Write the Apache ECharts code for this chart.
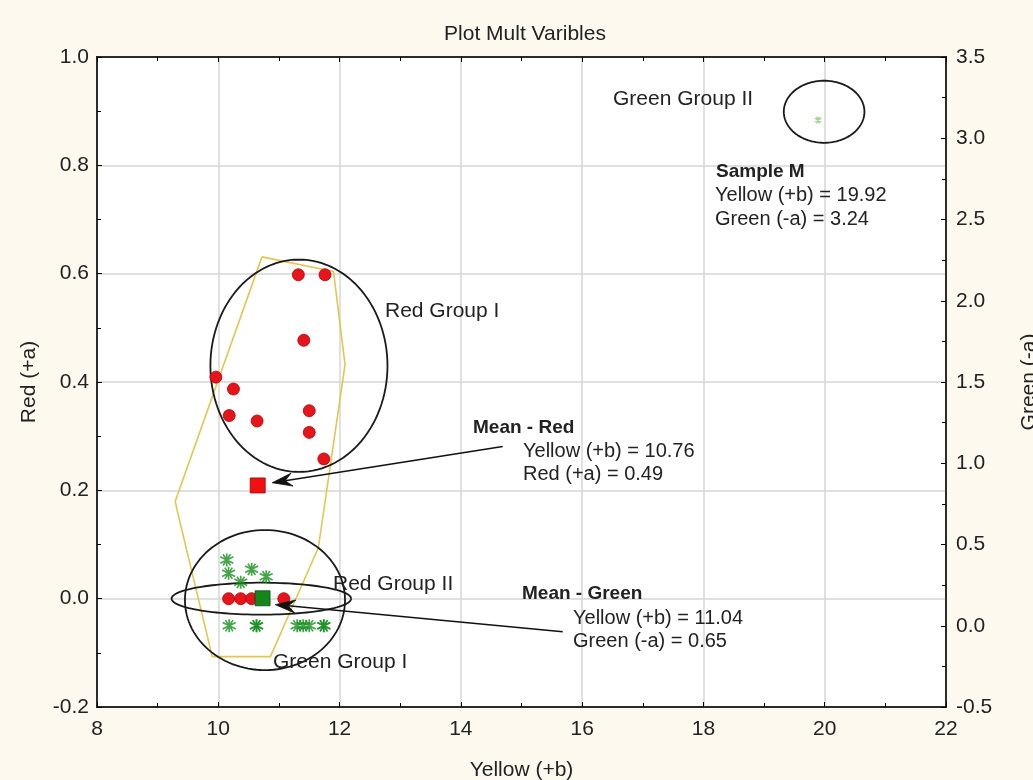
<!DOCTYPE html>
<html><head><meta charset="utf-8">
<script src="https://cdn.jsdelivr.net/npm/echarts@6/dist/echarts.min.js"></script>
<style>html,body{margin:0;padding:0;background:#fdf9ef;}#c{width:1033px;height:780px;}</style>
</head><body><div id="c"></div>
<script>
// ---- data (x = Yellow (+b); left y = Red (+a); right y = Green (-a)) ----
const xTicks = [8, 10, 12, 14, 16, 18, 20, 22];
const leftTicks = [-0.2, 0.0, 0.2, 0.4, 0.6, 0.8, 1.0];
const rightTicks = [-0.5, 0.0, 0.5, 1.0, 1.5, 2.0, 2.5, 3.0, 3.5];
const redPoints = [
  [11.32, 0.598], [11.76, 0.598], [11.41, 0.477], [9.96, 0.409], [10.25, 0.387],
  [10.18, 0.338], [10.64, 0.328], [11.50, 0.347], [11.50, 0.307], [11.74, 0.258],
  [10.17, 0.0], [10.37, 0.0], [10.55, 0.0], [10.70, 0.0], [11.08, 0.0]
];
const redMean = [[10.65, 0.209]];
const greenPoints = [
  [10.14, 0.405], [10.17, 0.323], [10.55, 0.347], [10.79, 0.302], [10.37, 0.267],
  [10.18, 0.0], [10.63, 0.0], [10.63, 0.0], [11.30, 0.0], [11.40, 0.0], [11.50, 0.0], [11.74, 0.0], [11.74, 0.0]
];
const greenMean = [[10.73, 0.169]];
const sampleM = [[19.89, 3.112]];
// hull of samples (left axis)
const hullPoints = [
  [10.72, 0.631], [11.90, 0.604], [12.09, 0.432], [11.65, 0.094], [10.86, -0.107],
  [9.90, -0.107], [9.32, 0.164], [9.29, 0.180], [10.72, 0.631]
];
// ellipses: [centerX, centerY, radiusX, radiusY]
const redGroupI = [11.33, 0.430, 1.46, 0.196];
const redGroupII = [10.71, 0.0, 1.48, 0.0295];
const greenGroupI = [10.77, 0.158, 1.32, 0.431];
const greenGroupII = [19.99, 3.163, 0.665, 0.191];
// arrows [fromX, fromY, toX, toY] (left axis)
const arrowRed = [14.69, 0.281, 10.89, 0.214];
const arrowGreen = [15.68, -0.061, 10.94, -0.011];

const FONT = 'Liberation Sans, Arial, sans-serif';
const TXT = '#222';

function ellipseSeries(e, yIdx) {
  return {
    type: 'custom', xAxisIndex: 0, yAxisIndex: yIdx, silent: true, z: 3,
    data: [e],
    renderItem: function (params, api) {
      const cx = api.value(0), cy = api.value(1), rx = api.value(2), ry = api.value(3);
      const pts = [];
      for (let i = 0; i <= 120; i++) {
        const t = i / 120 * Math.PI * 2;
        pts.push(api.coord([cx + rx * Math.cos(t), cy + ry * Math.sin(t)]));
      }
      return { type: 'polyline', shape: { points: pts }, style: { stroke: '#1a1a1a', lineWidth: 1.8, fill: null } };
    }
  };
}

const arrowSeries = {
  type: 'custom', xAxisIndex: 0, yAxisIndex: 0, silent: true, z: 7,
  data: [arrowRed, arrowGreen],
  renderItem: function (params, api) {
    const a = api.coord([api.value(0), api.value(1)]);
    const b = api.coord([api.value(2), api.value(3)]);
    const dx = b[0] - a[0], dy = b[1] - a[1];
    const len = Math.sqrt(dx * dx + dy * dy);
    const ux = dx / len, uy = dy / len, nx = -uy, ny = ux;
    const L = 20, W = 6.5, N = 13;
    const back = [b[0] - ux * L, b[1] - uy * L];
    const notch = [b[0] - ux * N, b[1] - uy * N];
    return {
      type: 'group', children: [
        { type: 'line', shape: { x1: a[0], y1: a[1], x2: notch[0], y2: notch[1] }, style: { stroke: '#111', lineWidth: 1.5 } },
        { type: 'polygon', shape: { points: [b, [back[0] + nx * W, back[1] + ny * W], notch, [back[0] - nx * W, back[1] - ny * W]] },
          style: { fill: '#111', stroke: '#111', lineWidth: 0.8 } }
      ]
    };
  }
};

const asterisk = 'path://M0,-6L0,6M-5.2,-3L5.2,3M-5.2,3L5.2,-3M-3,-5.2L3,5.2M3,-5.2L-3,5.2';

function txt(text, x, y, opts) {
  return {
    type: 'text', x: x, y: y, z: 100,
    style: Object.assign({ text: text, font: '20px ' + FONT, fill: TXT, textAlign: 'left', textVerticalAlign: 'middle' }, opts || {})
  };
}

const chart = echarts.init(document.getElementById('c'));
const axisLine = { onZero: false, lineStyle: { color: '#000', width: 1.5 } };
chart.setOption({
  backgroundColor: '#fdf9ef',
  animation: false,
  grid: { left: 97, right: 87, top: 57, bottom: 73, show: true, backgroundColor: '#fff', borderColor: '#000', borderWidth: 1.5,
          outerBoundsMode: 'none', containLabel: false },
  xAxis: [{
    type: 'value', min: xTicks[0], max: xTicks[xTicks.length - 1], interval: 2, position: 'bottom',
    axisLine: axisLine,
    axisTick: { inside: true, length: 5, lineStyle: { color: '#000' } },
    minorTick: { show: true, splitNumber: 2, length: 4, lineStyle: { color: '#000' } },
    splitLine: { show: true, lineStyle: { color: '#d6d6d6', width: 1.5 } },
    axisLabel: { fontSize: 21, color: TXT, fontFamily: FONT, margin: 12 },
    name: 'Yellow (+b)', nameLocation: 'middle', nameGap: 53,
    nameTextStyle: { fontSize: 21, color: TXT, fontFamily: FONT }
  }, {
    type: 'value', min: xTicks[0], max: xTicks[xTicks.length - 1], interval: 2, position: 'top',
    axisLine: axisLine,
    axisTick: { inside: true, length: 5, lineStyle: { color: '#000' } },
    minorTick: { show: true, splitNumber: 2, length: 4, lineStyle: { color: '#000' } },
    splitLine: { show: false }, axisLabel: { show: false }
  }],
  yAxis: [{
    type: 'value', min: leftTicks[0], max: leftTicks[leftTicks.length - 1], interval: 0.2, position: 'left',
    axisLine: axisLine,
    axisTick: { inside: true, length: 5, lineStyle: { color: '#000' } },
    minorTick: { show: true, splitNumber: 2, length: 4, lineStyle: { color: '#000' } },
    splitLine: { show: true, lineStyle: { color: '#d6d6d6', width: 1.5 } },
    axisLabel: { fontSize: 21, color: TXT, fontFamily: FONT, margin: 8, formatter: v => v.toFixed(1) },
    name: 'Red (+a)', nameLocation: 'middle', nameGap: 57, nameRotate: 90,
    nameTextStyle: { fontSize: 21, color: TXT, fontFamily: FONT }
  }, {
    type: 'value', min: rightTicks[0], max: rightTicks[rightTicks.length - 1], interval: 0.5, position: 'right',
    axisLine: axisLine,
    axisTick: { inside: true, length: 5, lineStyle: { color: '#000' } },
    minorTick: { show: true, splitNumber: 2, length: 4, lineStyle: { color: '#000' } },
    splitLine: { show: false },
    axisLabel: { fontSize: 21, color: TXT, fontFamily: FONT, margin: 10, formatter: v => v.toFixed(1) },
    name: 'Green (-a)', nameLocation: 'middle', nameGap: 73, nameRotate: 90,
    nameTextStyle: { fontSize: 21, color: TXT, fontFamily: FONT }
  }],
  series: [
    { type: 'line', xAxisIndex: 0, yAxisIndex: 0, data: hullPoints, showSymbol: false, silent: true, z: 2,
      lineStyle: { color: '#e6c54e', width: 1.6 } },
    ellipseSeries(redGroupI, 0),
    ellipseSeries(redGroupII, 0),
    ellipseSeries(greenGroupI, 1),
    ellipseSeries(greenGroupII, 1),
    { type: 'scatter', xAxisIndex: 0, yAxisIndex: 1, data: greenPoints, symbol: asterisk, symbolSize: 13, z: 4,
      itemStyle: { color: 'rgba(0,0,0,0)', borderColor: '#178f1e', borderWidth: 1.7 } },
    { type: 'scatter', xAxisIndex: 0, yAxisIndex: 1, data: sampleM, symbol: asterisk, symbolSize: 7, z: 4,
      itemStyle: { color: 'rgba(0,0,0,0)', borderColor: '#7fcf7f', borderWidth: 1.2 } },
    { type: 'scatter', xAxisIndex: 0, yAxisIndex: 0, data: redPoints, symbol: 'circle', symbolSize: 12, z: 5,
      itemStyle: { color: '#e8141b', borderColor: '#b00000', borderWidth: 0.8, opacity: 1 } },
    { type: 'scatter', xAxisIndex: 0, yAxisIndex: 0, data: redMean, symbol: 'rect', symbolSize: 15, z: 6,
      itemStyle: { color: '#f01010', borderColor: '#a00000', borderWidth: 0.8, opacity: 1 } },
    { type: 'scatter', xAxisIndex: 0, yAxisIndex: 1, data: greenMean, symbol: 'rect', symbolSize: 15, z: 6,
      itemStyle: { color: '#16861c', borderColor: '#0b4d0f', borderWidth: 0.8, opacity: 1 } },
    arrowSeries
  ],
  graphic: [
    txt('Plot Mult Varibles', 525, 34, { textAlign: 'center', font: '21px ' + FONT }),
    txt('Green Group II', 613, 99, { font: '21px ' + FONT }),
    txt('Sample M', 716, 172, { font: 'bold 19px ' + FONT }),
    txt('Yellow (+b) = 19.92', 715, 195),
    txt('Green (-a) = 3.24', 715, 219),
    txt('Red Group I', 385, 311, { font: '21px ' + FONT }),
    txt('Mean - Red', 473, 428, { font: 'bold 19px ' + FONT }),
    txt('Yellow (+b) = 10.76', 523, 451),
    txt('Red (+a) = 0.49', 523, 474),
    txt('Red Group II', 333, 584, { font: '21px ' + FONT }),
    txt('Mean - Green', 522, 594, { font: 'bold 19px ' + FONT }),
    txt('Yellow (+b) = 11.04', 573, 618),
    txt('Green (-a) = 0.65', 573, 641),
    txt('Green Group I', 273, 662, { font: '21px ' + FONT })
  ]
});
</script></body></html>
